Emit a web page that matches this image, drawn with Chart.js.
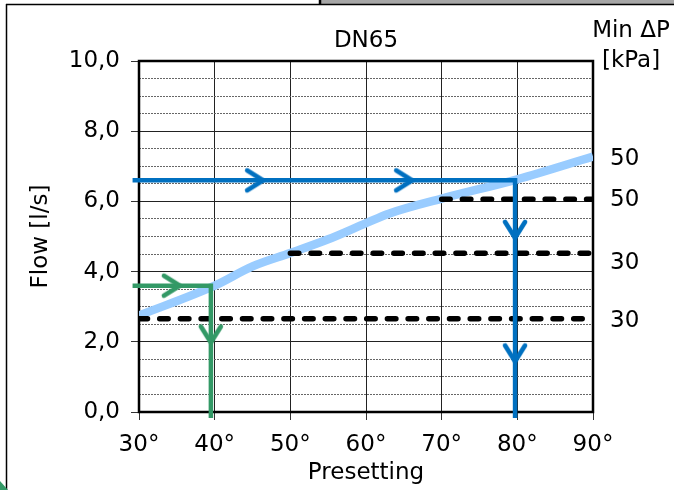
<!DOCTYPE html>
<html><head><meta charset="utf-8">
<script src="https://cdn.jsdelivr.net/npm/chart.js@4"></script>
<style>html,body{margin:0;padding:0;background:#fff;overflow:hidden}#wrap{width:674px;height:490px;position:relative}</style>
</head><body><div id="wrap"><canvas id="c" width="674" height="490"></canvas></div>
<script>
const FONT = "'DejaVu Sans', sans-serif";
const FS = 23;
const chartTitle = 'DN65';
const xAxisTitle = 'Presetting';
const yAxisTitle = 'Flow [l/s]';
const rightTitle = ['Min \u0394P', '[kPa]'];
const xTicks = [30, 40, 50, 60, 70, 80, 90];
const yTicks = [0, 2, 4, 6, 8, 10];
const yMinorStep = 0.5;

// flow curve (light blue)
const curveX = [30, 40, 45, 50, 55, 60, 63, 70, 80, 90];
const curveY = [2.75, 3.6, 4.15, 4.53, 4.92, 5.38, 5.65, 6.08, 6.63, 7.28];

// blue reading path + arrows
const bluePathX = [29.15, 79.7, 79.7];
const bluePathY = [6.6, 6.6, -0.17];
const blueArrowX = [46.4, 66.1, 79.7, 79.7];
const blueArrowY = [6.6, 6.6, 4.96, 1.44];
const blueArrowDir = [0, 0, 90, 90];

// green reading path + arrows
const greenPathX = [29.15, 39.5, 39.5];
const greenPathY = [3.6, 3.6, -0.17];
const greenArrowX = [35.4, 39.5];
const greenArrowY = [3.6, 1.98];
const greenArrowDir = [0, 90];

// min dP dashed lines
const dpLowX = [30, 89];   const dpLowY = [2.66, 2.66];
const dpMidX = [50, 90];   const dpMidY = [4.52, 4.52];
const dpHighX = [70, 90];  const dpHighY = [6.06, 6.06];

// right-hand min dP labels
const dpLabels = ['50', '50', '30', '30'];
const dpLabelY = [7.22, 6.03, 4.25, 2.58];

const BLUE = '#0070C0', GREEN = '#339966', LIGHT = '#99CCFF';

function pts(xs, ys) { return xs.map((x, i) => ({x: x, y: ys[i]})); }

function chevron(color) {
  const c = document.createElement('canvas');
  c.width = 44; c.height = 44;
  const g = c.getContext('2d');
  g.strokeStyle = color; g.lineWidth = 4.5; g.lineCap = 'round'; g.lineJoin = 'round';
  g.beginPath();
  g.moveTo(22 - 16, 22 - 10); g.lineTo(22, 22); g.lineTo(22 - 16, 22 + 10);
  g.stroke();
  return c;
}
const blueChev = chevron(BLUE), greenChev = chevron(GREEN);

const isMajor = v => Math.abs(v / 2 - Math.round(v / 2)) < 1e-6;

const decor = {
  id: 'decor',
  beforeDraw(chart) {
    const ctx = chart.ctx;
    ctx.save();
    ctx.fillStyle = '#fff';
    ctx.fillRect(0, 0, chart.width, chart.height);
    ctx.fillStyle = '#a6a6a6';
    ctx.fillRect(321, 0, 353, 4);
    ctx.strokeStyle = '#000';
    ctx.lineWidth = 1.5;
    ctx.beginPath(); ctx.moveTo(6, 4.5); ctx.lineTo(674, 4.5); ctx.stroke();
    ctx.beginPath(); ctx.moveTo(6.5, 4); ctx.lineTo(6.5, 490); ctx.stroke();
    ctx.lineWidth = 2.5;
    ctx.beginPath(); ctx.moveTo(320, 0); ctx.lineTo(320, 5); ctx.stroke();
    ctx.fillStyle = GREEN;
    ctx.beginPath(); ctx.moveTo(0, 481); ctx.lineTo(8, 490); ctx.lineTo(0, 490); ctx.closePath(); ctx.fill();
    ctx.restore();
  },
  beforeDatasetsDraw(chart) {
    const a = chart.chartArea, ctx = chart.ctx;
    ctx.save();
    ctx.strokeStyle = '#000'; ctx.lineWidth = 2.5;
    ctx.strokeRect(a.left, a.top, a.right - a.left, a.bottom - a.top);
    ctx.restore();
  },
  afterDraw(chart) {
    const ctx = chart.ctx, ys = chart.scales.y;
    ctx.save();
    ctx.fillStyle = '#000';
    ctx.font = FS + 'px ' + FONT;
    ctx.textBaseline = 'middle';
    ctx.textAlign = 'left';
    dpLabels.forEach((t, i) => ctx.fillText(t, 610, ys.getPixelForValue(dpLabelY[i])));
    ctx.textAlign = 'center';
    ctx.fillText(rightTitle[0], 631, 31);
    ctx.fillText(rightTitle[1], 631, 61);
    ctx.restore();
  }
};

new Chart(document.getElementById('c'), {
  type: 'line',
  data: {
    datasets: [
      { label: 'blue arrows', data: pts(blueArrowX, blueArrowY), showLine: false,
        pointStyle: blueChev, pointRadius: 5, pointRotation: blueArrowDir, order: 0 },
      { label: 'green arrows', data: pts(greenArrowX, greenArrowY), showLine: false,
        pointStyle: greenChev, pointRadius: 5, pointRotation: greenArrowDir, order: 0 },
      { label: 'blue path', data: pts(bluePathX, bluePathY), borderColor: BLUE, borderWidth: 4.5,
        pointRadius: 0, borderJoinStyle: 'miter', clip: false, order: 1 },
      { label: 'green path', data: pts(greenPathX, greenPathY), borderColor: GREEN, borderWidth: 4.5,
        pointRadius: 0, borderJoinStyle: 'miter', clip: false, order: 1 },
      { label: 'dp low', data: pts(dpLowX, dpLowY), borderColor: '#000', borderWidth: 5.5,
        borderDash: [8.5, 12.2], borderCapStyle: 'round', pointRadius: 0, order: 2 },
      { label: 'dp mid', data: pts(dpMidX, dpMidY), borderColor: '#000', borderWidth: 5.5,
        borderDash: [8.5, 12.2], borderCapStyle: 'round', pointRadius: 0, order: 2 },
      { label: 'dp high', data: pts(dpHighX, dpHighY), borderColor: '#000', borderWidth: 5.5,
        borderDash: [8.5, 12.2], borderCapStyle: 'round', pointRadius: 0, order: 2 },
      { label: 'flow', data: pts(curveX, curveY), borderColor: LIGHT, borderWidth: 8.5,
        cubicInterpolationMode: 'monotone', pointRadius: 0, order: 3 }
    ]
  },
  options: {
    responsive: false,
    animation: false,
    events: [],
    layout: { padding: { top: 0, right: 81, bottom: 0, left: 0 } },
    plugins: {
      legend: { display: false },
      tooltip: { enabled: false },
      title: { display: true, text: chartTitle, fullSize: false, color: '#000',
        font: { family: FONT, size: FS, weight: 'normal' }, padding: { top: 27, bottom: 6.4 } }
    },
    scales: {
      x: {
        type: 'linear', min: 30, max: 90,
        afterBuildTicks: s => { s.ticks = xTicks.map(v => ({value: v})); },
        ticks: { callback: v => v + '\u00b0', color: '#000', font: { family: FONT, size: FS },
          padding: 11, autoSkip: false, maxRotation: 0 },
        grid: { color: '#222', lineWidth: 1, tickLength: 8, tickColor: '#333' },
        border: { display: false },
        title: { display: true, text: xAxisTitle, color: '#000', font: { family: FONT, size: FS },
          padding: { top: 0, bottom: 3 } },
        afterFit: s => { s.height = 78; }
      },
      y: {
        type: 'linear', min: 0, max: 10,
        afterBuildTicks: s => {
          const t = [];
          for (let i = 0; i <= 20; i++) t.push({value: +(i * yMinorStep).toFixed(1)});
          s.ticks = t;
        },
        ticks: { callback: v => (yTicks.includes(v) ? v.toFixed(1).replace('.', ',') : ''),
          color: '#000', font: { family: FONT, size: FS }, padding: 11, autoSkip: false },
        grid: {
          color: c => (c.tick && isMajor(c.tick.value)) ? '#222' : '#666',
          lineWidth: 1, tickLength: 8,
          tickColor: c => (c.tick && isMajor(c.tick.value)) ? '#333' : 'rgba(0,0,0,0)'
        },
        border: { display: false, dash: c => (c.tick && isMajor(c.tick.value)) ? [] : [2, 1] },
        title: { display: true, text: yAxisTitle, color: '#000', font: { family: FONT, size: FS },
          padding: { top: 27, bottom: 0 } },
        afterFit: s => { s.width = 139; }
      }
    }
  },
  plugins: [decor]
});
</script>
</body></html>
